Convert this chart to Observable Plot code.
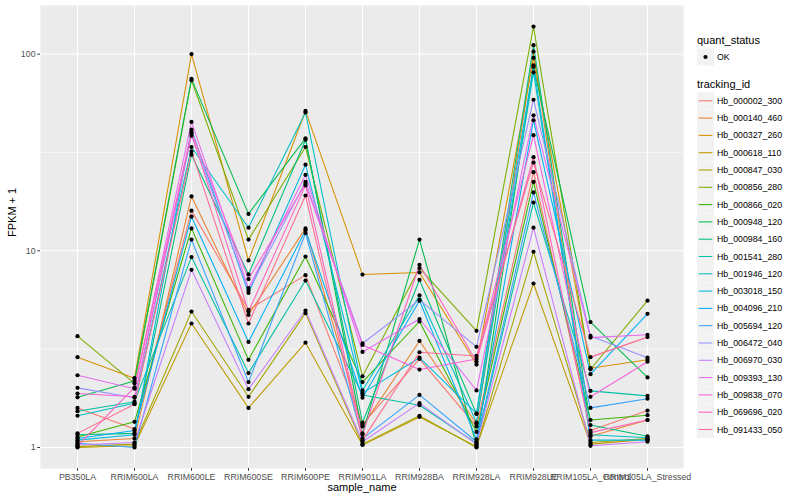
<!DOCTYPE html>
<html>
<head>
<meta charset="utf-8">
<script src="https://cdn.jsdelivr.net/npm/d3@7"></script>
<script src="https://cdn.jsdelivr.net/npm/@observablehq/plot@0.6"></script>
<style>
  html, body { margin: 0; padding: 0; background: white; }
  #chart { position: relative; width: 800px; height: 500px; }
</style>
</head>
<body>
<div id="chart"></div>
<script>
// ---- Data ----
const samples = ["PB350LA","RRIM600LA","RRIM600LE","RRIM600SE","RRIM600PE","RRIM901LA","RRIM928BA","RRIM928LA","RRIM928LE","RRIM105LA_Control","RRIM105LA_Stressed"];
const trackingIds = ["Hb_000002_300","Hb_000140_460","Hb_000327_260","Hb_000618_110","Hb_000847_030","Hb_000856_280","Hb_000866_020","Hb_000948_120","Hb_000984_160","Hb_001541_280","Hb_001946_120","Hb_003018_150","Hb_004096_210","Hb_005694_120","Hb_006472_040","Hb_006970_030","Hb_009393_130","Hb_009838_070","Hb_069696_020","Hb_091433_050"];
const trackColors = ["#F8766D","#EA8331","#D89000","#C09B00","#A3A500","#7CAE00","#39B600","#00BB4E","#00BF7D","#00C1A3","#00BFC4","#00BAE0","#00B0F6","#35A2FF","#9590FF","#C77CFF","#E76BF3","#FA62DB","#FF62BC","#FF6C91"];
const yTicks = [1, 10, 100];
const yMinorTicks = [3.162, 31.62];

// FPKM + 1 per sample (in the order of `samples`)
const hb_000002_300 = [1.59, 1.24, 16.0, 5.01, 7.52, 1.31, 2.82, 1.28, 25.1, 1.22, 1.54];
const hb_000140_460 = [1.07, 1.11, 18.9, 4.72, 13.0, 1.28, 3.48, 1.32, 103, 1.14, 1.38];
const hb_000327_260 = [2.88, 2.25, 100, 8.93, 51.4, 7.57, 7.76, 2.64, 95.6, 2.53, 2.79];
const hb_000618_110 = [1.00, 1.02, 4.27, 1.59, 3.41, 1.03, 1.43, 1.01, 6.82, 1.04, 1.10];
const hb_000847_030 = [1.01, 1.04, 4.91, 1.81, 4.82, 1.04, 1.45, 1.00, 9.89, 1.06, 1.11];
const hb_000856_280 = [3.68, 2.12, 73.6, 11.4, 33.7, 2.30, 8.17, 3.92, 138, 2.50, 5.58];
const hb_000866_020 = [1.13, 1.35, 13.0, 2.79, 9.35, 2.15, 4.37, 1.20, 22.4, 1.38, 1.46];
const hb_000948_120 = [1.80, 2.18, 74.8, 15.4, 37.3, 1.18, 11.4, 1.02, 86.1, 4.34, 2.27];
const hb_000984_160 = [1.16, 1.18, 30.8, 7.58, 36.7, 1.34, 7.11, 1.48, 111, 1.30, 1.14];
const hb_001541_280 = [1.53, 1.71, 9.29, 2.39, 7.06, 1.85, 1.64, 1.05, 17.6, 1.94, 1.83];
const hb_001946_120 = [1.45, 1.68, 33.7, 13.1, 50.5, 1.95, 5.93, 1.34, 80.8, 1.16, 1.12];
const hb_003018_150 = [1.09, 1.16, 41.3, 6.10, 27.4, 1.89, 2.86, 1.49, 87.7, 1.09, 1.09];
const hb_004096_210 = [1.11, 1.22, 14.9, 3.44, 12.7, 1.79, 5.57, 1.10, 46.1, 2.36, 4.78];
const hb_005694_120 = [1.05, 1.00, 11.4, 2.15, 12.3, 1.11, 1.85, 1.07, 19.8, 1.59, 1.77];
const hb_006472_040 = [2.01, 1.79, 38.5, 6.28, 22.4, 3.38, 5.63, 3.25, 58.6, 3.69, 2.86];
const hb_006970_030 = [1.03, 1.06, 8.00, 1.98, 4.97, 1.07, 1.68, 1.04, 13.1, 1.02, 1.07];
const hb_009393_130 = [2.33, 1.99, 45.2, 6.46, 24.3, 3.06, 4.50, 1.95, 48.8, 3.62, 3.74];
const hb_009838_070 = [1.88, 1.81, 40.2, 7.18, 21.9, 3.32, 2.49, 2.82, 38.7, 1.81, 2.73];
const hb_069696_020 = [1.02, 2.02, 39.5, 4.91, 21.5, 1.16, 8.49, 2.73, 29.9, 1.19, 1.38];
const hb_091433_050 = [1.18, 1.66, 32.0, 4.27, 19.1, 1.09, 3.05, 2.92, 28.1, 2.88, 3.64];

const seriesValues = [hb_000002_300, hb_000140_460, hb_000327_260, hb_000618_110, hb_000847_030,
  hb_000856_280, hb_000866_020, hb_000948_120, hb_000984_160, hb_001541_280, hb_001946_120,
  hb_003018_150, hb_004096_210, hb_005694_120, hb_006472_040, hb_006970_030, hb_009393_130,
  hb_009838_070, hb_069696_020, hb_091433_050];

const rows = [];
trackingIds.forEach((id, i) => {
  samples.forEach((s, j) => rows.push({id, sample: s, value: seriesValues[i][j], status: "OK"}));
});

const font = "'Liberation Sans', Arial, Helvetica, sans-serif";

const chart = Plot.plot({
  width: 800,
  height: 500,
  marginLeft: 40,
  marginRight: 117,
  marginTop: 5,
  marginBottom: 32,
  style: {background: "white", fontFamily: font, fontSize: "8.8px", color: "#4D4D4D"},
  x: {type: "point", domain: samples, padding: 0.6, label: null},
  y: {type: "log", domain: [0.782, 176.6], label: null},
  color: {domain: trackingIds, range: trackColors},
  marks: [
    Plot.frame({fill: "#EBEBEB", stroke: null}),
    Plot.gridY(yMinorTicks, {stroke: "white", strokeOpacity: 1, strokeWidth: 0.55}),
    Plot.gridY(yTicks, {stroke: "white", strokeOpacity: 1, strokeWidth: 1.07}),
    Plot.gridX(samples, {stroke: "white", strokeOpacity: 1, strokeWidth: 1.07}),
    Plot.line(rows, {x: "sample", y: "value", z: "id", stroke: "id", strokeWidth: 1.07}),
    Plot.dot(rows, {x: "sample", y: "value", fill: "black", stroke: null, r: 2.1}),
    Plot.axisX(samples, {tickSize: 2.75, tickPadding: 2.2, stroke: "#333333", fill: "#4D4D4D", label: null}),
    Plot.axisY(yTicks, {tickSize: 2.75, tickPadding: 2.2, stroke: "#333333", fill: "#4D4D4D", tickFormat: d => String(d), label: null}),
    Plot.text(["sample_name"], {frameAnchor: "bottom", dy: 22, fontSize: 11, fill: "black", fontFamily: font}),
    Plot.text(["FPKM + 1"], {frameAnchor: "left", dx: -28, rotate: -90, fontSize: 11, fill: "black", fontFamily: font})
  ]
});

document.getElementById("chart").appendChild(chart);

// ---- Legend (ggplot-style, drawn into the same SVG) ----
const svg = d3.select(chart);
const lg = svg.append("g").attr("font-family", font).attr("text-anchor", "start");
const lx = 697;
const addText = (x, y, size, str) =>
  lg.append("text").attr("x", x).attr("y", y).attr("dy", "0.35em").attr("font-size", size)
    .attr("fill", "black").attr("text-anchor", "start").text(str);

addText(lx, 40, 11, "quant_status");
lg.append("rect").attr("x", lx).attr("y", 48.5).attr("width", 17).attr("height", 17).attr("fill", "#F2F2F2");
lg.append("circle").attr("cx", lx + 8.5).attr("cy", 57).attr("r", 2.1).attr("fill", "black");
addText(lx + 20, 57, 8.8, "OK");

addText(lx, 84, 11, "tracking_id");
trackingIds.forEach((id, i) => {
  const cy = 100.8 + i * 17.3;
  lg.append("rect").attr("x", lx).attr("y", cy - 8.5).attr("width", 17).attr("height", 17).attr("fill", "#F2F2F2");
  lg.append("line").attr("x1", lx + 1.7).attr("x2", lx + 15.3).attr("y1", cy).attr("y2", cy)
    .attr("stroke", trackColors[i]).attr("stroke-width", 1.07);
  addText(lx + 20, cy, 8.8, id);
});
</script>
</body>
</html>
